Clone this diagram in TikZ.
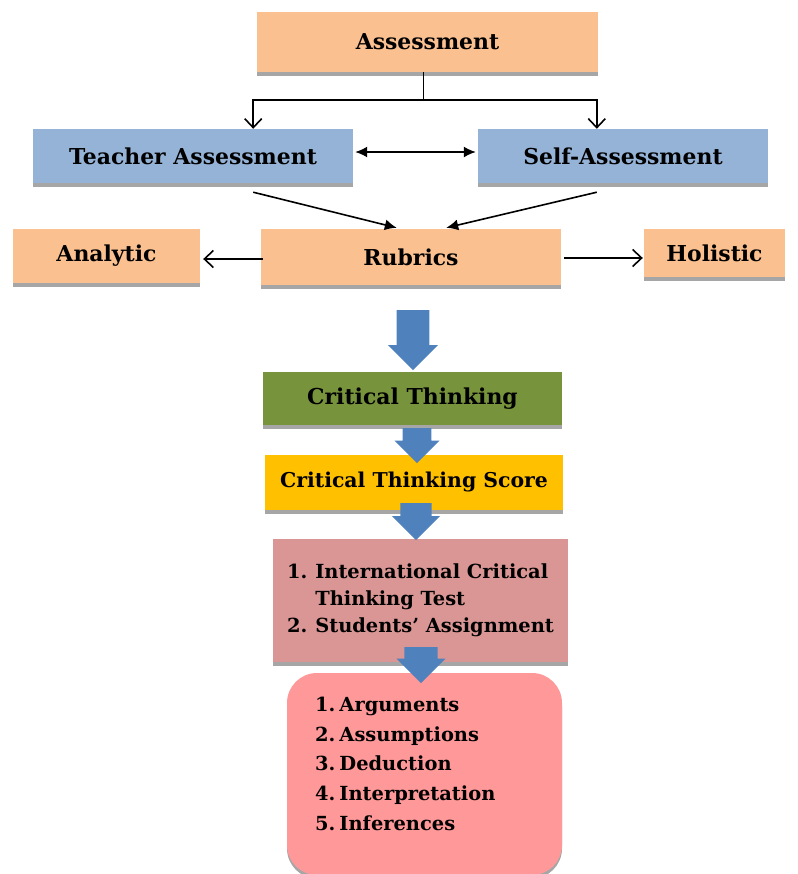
\documentclass[tikz,border=0pt]{standalone}
\usepackage{fontspec}
\setmainfont{DejaVu Serif}
\usetikzlibrary{shapes.arrows,shadows,arrows.meta}
\definecolor{peach}{HTML}{FAC090}
\definecolor{sky}{HTML}{95B3D7}
\definecolor{olive}{HTML}{77933C}
\definecolor{amber}{HTML}{FFC000}
\definecolor{rose}{HTML}{D99694}
\definecolor{salmon}{HTML}{FF9999}
\definecolor{flow}{HTML}{4F81BD}

\begin{document}
\begin{tikzpicture}[x=1bp,y=-1bp,
  box/.style={inner sep=0pt,font=\bfseries\fontsize{22}{26}\selectfont,
    drop shadow={shadow xshift=0bp,shadow yshift=-3.5bp,fill=black,opacity=.35}},
  link/.style={line width=1.6bp,-{Straight Barb[length=9bp,width=17bp]}},
  solid link/.style={line width=1.6bp,-{Latex[length=12bp,width=11bp]}},
  bigarrow/.style={single arrow,fill=flow,rotate=-90,anchor=tail,inner xsep=0pt,
    single arrow head indent=0pt,single arrow tip angle=90}]
\path[use as bounding box] (0,0) rectangle (798,874);

% top part
\node[box,fill=peach,minimum width=341bp,minimum height=60bp] (assess) at (427.5,42) {Assessment};
\node[box,fill=sky,minimum width=320bp,minimum height=54bp] (teacher) at (193,156) {Teacher Assessment};
\node[box,fill=sky,minimum width=290bp,minimum height=54bp] (self) at (623,156) {Self-Assessment};
\node[box,fill=peach,minimum width=300bp,minimum height=56bp] (rubrics) at (411,257) {Rubrics};
\node[box,fill=peach,minimum width=187bp,minimum height=54bp] (analytic) at (106.5,256) {Analytic};
\node[box,fill=peach,minimum width=141bp,minimum height=48bp] (holistic) at (714.5,253) {Holistic};

\draw[line width=1.6bp] ([xshift=-4bp]assess.south) -- ++(0,28) coordinate (split);
\draw[link] (split) -| ([xshift=-100bp]teacher.north east);
\draw[link] (split) -| ([xshift=119bp]self.north west);
\draw[line width=1.6bp,{Latex[length=12bp,width=11bp]}-{Latex[length=12bp,width=11bp]}]
  ([xshift=2bp,yshift=4bp]teacher.east) -- ([xshift=-2bp,yshift=4bp]self.west);
\draw[solid link] ([xshift=-100bp,yshift=-9bp]teacher.south east) -- ([xshift=136bp,yshift=1bp]rubrics.north west);
\draw[solid link] ([xshift=119bp,yshift=-9bp]self.south west) -- ([xshift=-115bp,yshift=1bp]rubrics.north east);
\draw[link] ([xshift=2bp,yshift=-2bp]rubrics.west) -- ([xshift=3bp,yshift=-3bp]analytic.east);
\draw[link] ([xshift=3bp,yshift=-1bp]rubrics.east) -- ([xshift=-1bp,yshift=-5bp]holistic.west);

% lower chain
\node[box,fill=olive,minimum width=299bp,minimum height=53bp] (critical) at (412.5,398.5) {Critical Thinking};
\node[box,fill=amber,minimum width=298bp,minimum height=55bp,font=\bfseries\fontsize{20.5}{24}\selectfont] (score) at (414,482.5) {Critical Thinking Score};
\node[box,fill=rose,minimum width=295bp,minimum height=123bp,font=\bfseries\fontsize{19.5}{27}\selectfont] (tests) at (420.5,600.5)
  {\begin{tabular}{@{}l@{\hspace{8bp}}l@{}}1.&International Critical\\&Thinking Test\\2.&Students' Assignment\end{tabular}};
\node[box,fill=salmon,rounded corners=30bp,minimum width=275bp,minimum height=202bp] (skills) at (424.5,774) {};
\node[font=\bfseries\fontsize{19.5}{30}\selectfont,anchor=west,inner sep=0pt] (list) at (315,765)
  {\begin{tabular}{@{}l@{\hspace{4bp}}l@{}}1.&Arguments\\2.&Assumptions\\3.&Deduction\\4.&Interpretation\\5.&Inferences\end{tabular}};

\node[bigarrow,minimum height=60bp,minimum width=50bp,inner ysep=13.5bp] (a1) at (413,310) {};
\node[bigarrow,minimum height=35bp,minimum width=45bp,inner ysep=12.5bp] (a2) at (417,428) {};
\node[bigarrow,minimum height=37bp,minimum width=48bp,inner ysep=13bp] (a3) at (416,503) {};
\node[bigarrow,minimum height=36bp,minimum width=49bp,inner ysep=15bp] (a4) at (421,647) {};
\end{tikzpicture}
\end{document}
